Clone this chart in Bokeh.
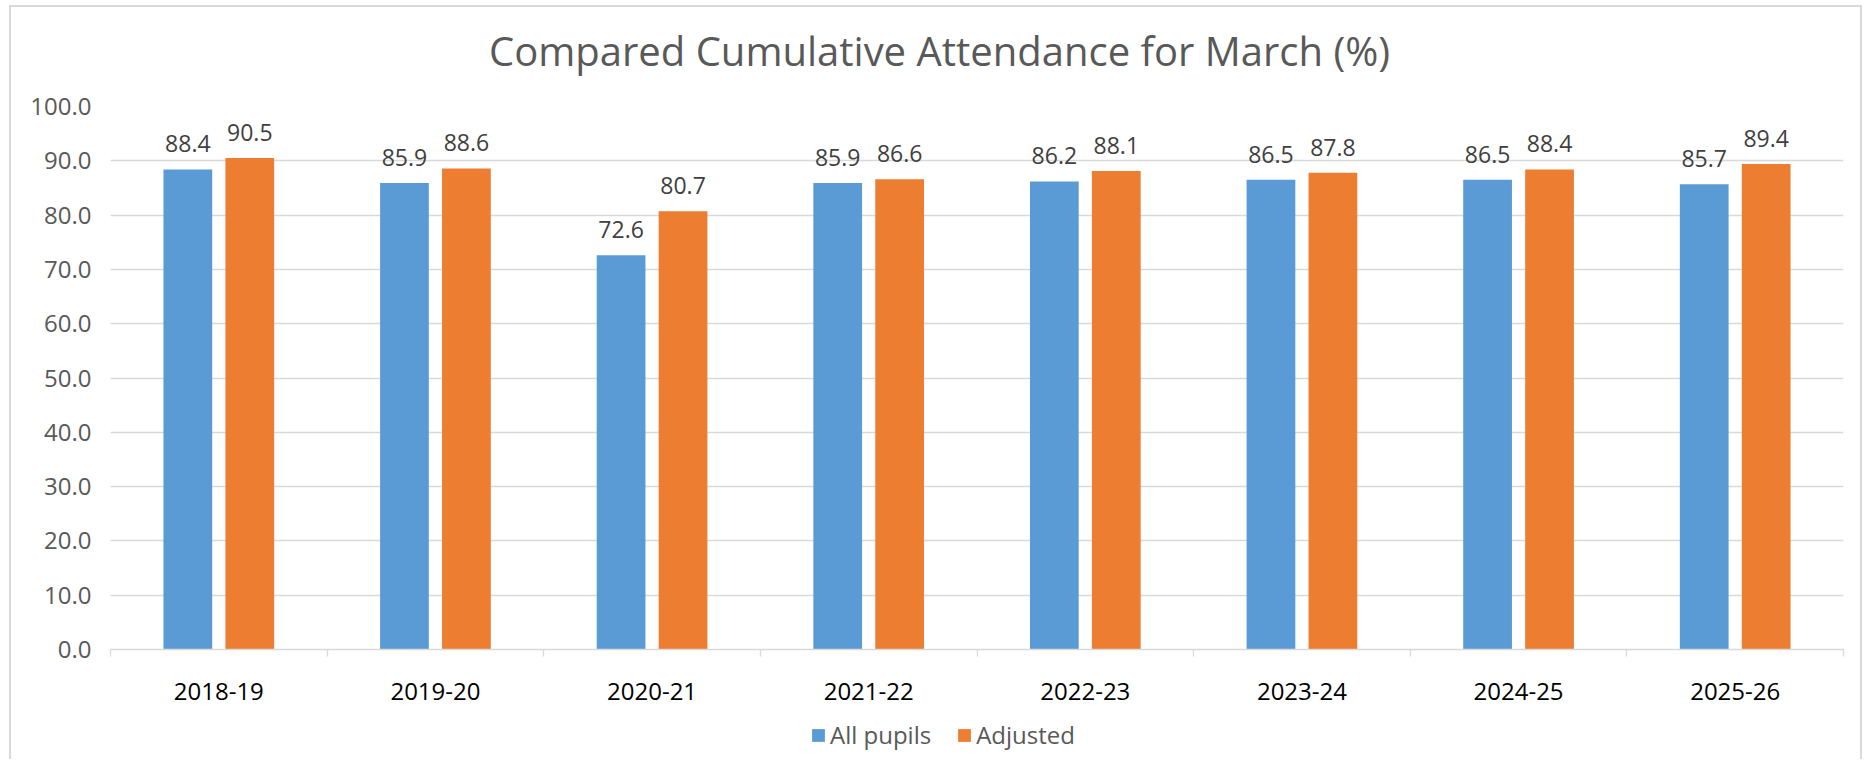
import numpy as np
from bokeh.plotting import figure
from bokeh.layouts import column
from bokeh.core.properties import value
from bokeh.models import (ColumnDataSource, FixedTicker, NumeralTickFormatter, Range1d,
                          LabelSet, Label, Legend, LegendItem)
from bokeh.embed import file_html
from bokeh.resources import INLINE

# ---- data ----
categories = ["2018-19", "2019-20", "2020-21", "2021-22", "2022-23", "2023-24", "2024-25", "2025-26"]
all_pupils = [88.4, 85.9, 72.6, 85.9, 86.2, 86.5, 86.5, 85.7]
adjusted = [90.5, 88.6, 80.7, 86.6, 88.1, 87.8, 88.4, 89.4]
y_ticks = [0, 10, 20, 30, 40, 50, 60, 70, 80, 90, 100]
title_text = "Compared Cumulative Attendance for March (%)"
series_names = ["All pupils", "Adjusted"]

BLUE = "#5B9BD5"
ORANGE = "#ED7D31"
GRID = "#d9d9d9"
FONT = "Open Sans"

n = len(categories)
centers = np.arange(n) + 0.5
bar_w = 0.225
off = 0.143

src = ColumnDataSource(dict(
    x_all=centers - off,
    x_adj=centers + off,
    all_pupils=all_pupils,
    adjusted=adjusted,
    lbl_all=[f"{v:.1f}" for v in all_pupils],
    lbl_adj=[f"{v:.1f}" for v in adjusted],
))

W = 1849


def strip(height):
    f = figure(width=W, height=height, x_range=Range1d(0, n), y_range=Range1d(0, height),
               output_backend="svg", toolbar_location=None,
               x_axis_location=None, y_axis_location=None,
               min_border=0, min_border_left=0, min_border_right=0,
               min_border_top=0, min_border_bottom=0)
    f.outline_line_color = None
    f.xgrid.visible = False
    f.ygrid.visible = False
    f.background_fill_color = "white"
    f.border_fill_color = "white"
    return f


# ---- title strip ----
pt = strip(76)
pt.add_layout(Label(x=3.827, y=33, text=title_text, text_align="center",
                    text_baseline="alphabetic", text_font=FONT,
                    text_font_size="40px", text_color="#595959"))

# ---- main chart ----
p = figure(width=W, height=632,
           x_range=Range1d(0, n), y_range=Range1d(y_ticks[0], y_ticks[-1]),
           output_backend="svg", toolbar_location=None,
           min_border_left=99, min_border_right=17,
           min_border_top=23, min_border_bottom=66)
p.outline_line_color = None
p.background_fill_color = "white"
p.border_fill_color = "white"

r1 = p.vbar(x="x_all", top="all_pupils", bottom=0, width=bar_w, source=src,
            fill_color=BLUE, line_color=None)
r2 = p.vbar(x="x_adj", top="adjusted", bottom=0, width=bar_w, source=src,
            fill_color=ORANGE, line_color=None)

# data labels
for col, xcol, ycol in (("lbl_all", "x_all", "all_pupils"), ("lbl_adj", "x_adj", "adjusted")):
    ls = LabelSet(x=xcol, y=ycol, text=col, source=src, y_offset=17,
                  text_align="center", text_baseline="alphabetic",
                  text_font=value(FONT), text_font_size=value("23px"),
                  text_color="#404040")
    p.add_layout(ls)

# grid
p.xgrid.visible = False
p.ygrid.grid_line_color = GRID
p.ygrid.grid_line_width = 1.3
p.ygrid.ticker = FixedTicker(ticks=y_ticks)

# y axis
p.yaxis.ticker = FixedTicker(ticks=y_ticks)
p.yaxis.formatter = NumeralTickFormatter(format="0.0")
p.yaxis.axis_line_color = None
p.yaxis.major_tick_line_color = None
p.yaxis.minor_tick_line_color = None
p.yaxis.major_tick_out = 0
p.yaxis.major_tick_in = 0
p.yaxis.major_label_standoff = 19
p.yaxis.major_label_text_font = FONT
p.yaxis.major_label_text_font_size = "24px"
p.yaxis.major_label_text_color = "#595959"

# x axis
p.xaxis.ticker = FixedTicker(ticks=list(centers), minor_ticks=list(range(0, n + 1)))
p.xaxis.major_label_overrides = {float(c): lab for c, lab in zip(centers, categories)}
p.xaxis.axis_line_color = GRID
p.xaxis.axis_line_width = 1.3
p.xaxis.major_tick_line_color = None
p.xaxis.major_tick_out = 0
p.xaxis.major_tick_in = 0
p.xaxis.minor_tick_line_color = GRID
p.xaxis.minor_tick_line_width = 1.3
p.xaxis.minor_tick_out = 7
p.xaxis.minor_tick_in = 0
p.xaxis.major_label_standoff = 26
p.xaxis.major_label_text_font = FONT
p.xaxis.major_label_text_font_size = "24px"
p.xaxis.major_label_text_color = "#000000"

# ---- legend strip (its bars lie outside its ranges; only the legend shows) ----
pl = strip(44)
pl.y_range = Range1d(1000, 1001)
lr1 = pl.vbar(x="x_all", top="all_pupils", bottom=0, width=bar_w, source=src,
              fill_color=BLUE, line_color=None)
lr2 = pl.vbar(x="x_adj", top="adjusted", bottom=0, width=bar_w, source=src,
              fill_color=ORANGE, line_color=None)
legend = Legend(items=[LegendItem(label=series_names[0], renderers=[lr1]),
                       LegendItem(label=series_names[1], renderers=[lr2])],
                orientation="horizontal", location=(700, 8),
                glyph_width=16, glyph_height=16, label_standoff=4, spacing=25,
                padding=0, margin=0, border_line_color=None, background_fill_alpha=0,
                label_text_font=FONT, label_text_font_size="24px",
                label_text_color="#595959")
pl.add_layout(legend, "center")

layout = column(pt, p, pl, spacing=0)
layout.styles = {"border-left": "2px solid #d9d9d9",
                 "border-top": "2px solid #d9d9d9",
                 "border-right": "2px solid #d9d9d9",
                 "margin-left": "9px",
                 "margin-top": "5px"}

open("out.html", "w").write(file_html(layout, INLINE))
